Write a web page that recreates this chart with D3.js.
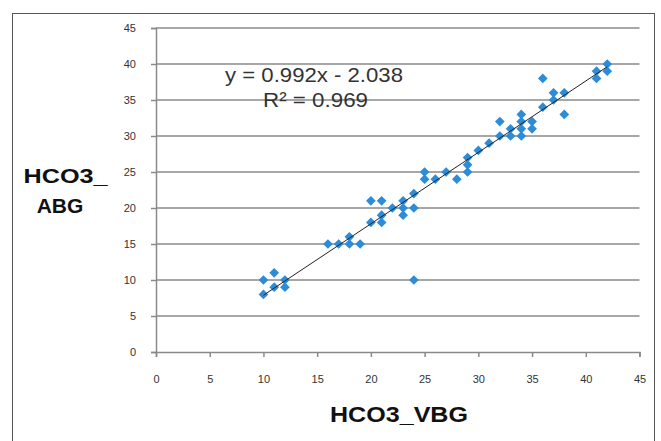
<!DOCTYPE html>
<html><head><meta charset="utf-8">
<script src="https://cdn.jsdelivr.net/npm/d3@7"></script>
<style>html,body{margin:0;padding:0;background:#fff;}svg{display:block;}</style>
</head><body>
<script>
const xValues = [10,10,11,11,12,12,16,17,18,18,19,20,21,20,21,21,22,23,23,23,24,24,24,25,25,26,27,28,29,29,29,30,31,32,32,33,33,34,34,34,34,35,35,36,36,37,37,38,38,41,41,42,42];
const yValues = [10,8,11,9,10,9,15,15,16,15,15,21,21,18,19,18,20,21,20,19,20,22,10,25,24,24,25,24,27,26,25,28,29,30,32,31,30,33,32,31,30,32,31,34,38,36,35,36,33,39,38,40,39];
const tickValues = [0,5,10,15,20,25,30,35,40,45];
const slope = 0.992, intercept = -2.038;
const eqLabel = "y = 0.992x - 2.038";
const r2Label = "R² = 0.969";
const xTitle = "HCO3_VBG";
const yTitleLines = ["HCO3_", "ABG"];

const W = 661, H = 441;
const font = "Liberation Sans, Arial, sans-serif";
const svg = d3.select("body").append("svg").attr("width", W).attr("height", H);
svg.append("rect").attr("x", 12.5).attr("y", 13.5).attr("width", 642).attr("height", 440)
  .attr("fill", "#fff").attr("stroke", "#555").attr("stroke-width", 1);

const x = d3.scaleLinear().domain([0,45]).range([156,639.5]);
const y = d3.scaleLinear().domain([0,45]).range([352,28]);

// gridlines
svg.append("g").selectAll("line").data(tickValues.filter(d=>d>0)).join("line")
  .attr("x1", x(0)).attr("x2", x(45)).attr("y1", d=>y(d)).attr("y2", d=>y(d))
  .attr("stroke", "#8a8a8a").attr("stroke-width", 1.5);

const gx = svg.append("g").attr("transform", `translate(0,${y(0)})`)
  .call(d3.axisBottom(x).tickValues(tickValues).tickSize(5).tickPadding(18).tickFormat(d3.format("d")));
const gy = svg.append("g").attr("transform", `translate(${x(0)},0)`)
  .call(d3.axisLeft(y).tickValues(tickValues).tickSize(5).tickPadding(15).tickFormat(d3.format("d")));
[gx, gy].forEach(g => {
  g.select(".domain").attr("stroke", "#8a8a8a").attr("stroke-width", 1.5);
  g.selectAll(".tick line").attr("stroke", "#8a8a8a").attr("stroke-width", 1.5);
  g.selectAll(".tick text").attr("fill", "#333").style("font-family", font).style("font-size", "11px");
});

// points
const pts = xValues.map((v,i)=>[v, yValues[i]]);
const diamond = d3.symbol().type(d3.symbolDiamond2).size(60);
svg.append("g").selectAll("path").data(pts).join("path")
  .attr("d", diamond)
  .attr("transform", d=>`translate(${x(d[0])},${y(d[1])})`)
  .attr("fill", "#2d8cd8");

// trendline
const xmin = d3.min(xValues), xmax = d3.max(xValues);
svg.append("line")
  .attr("x1", x(xmin)).attr("y1", y(slope*xmin+intercept))
  .attr("x2", x(xmax)).attr("y2", y(slope*xmax+intercept))
  .attr("stroke", "#222").attr("stroke-width", 1);

// equation
const eq = svg.append("g").style("font-family", font).style("font-size", "20px").attr("fill", "#333");
eq.append("text").attr("x", 314).attr("y", 82).attr("text-anchor", "middle")
  .attr("textLength", 178).attr("lengthAdjust", "spacingAndGlyphs").text(eqLabel);
eq.append("text").attr("x", 315.5).attr("y", 107).attr("text-anchor", "middle")
  .attr("textLength", 105).attr("lengthAdjust", "spacingAndGlyphs").text(r2Label);

// titles
svg.append("text").attr("x", 399).attr("y", 422).attr("text-anchor", "middle")
  .attr("textLength", 138).attr("lengthAdjust", "spacingAndGlyphs")
  .style("font-family", font).style("font-size", "22px").style("font-weight", "bold")
  .attr("fill", "#111").text(xTitle);
const yt = svg.append("g").style("font-family", font).style("font-size", "21px").style("font-weight", "bold").attr("fill", "#111");
yt.append("text").attr("x", 65.5).attr("y", 183).attr("text-anchor", "middle")
  .attr("textLength", 84).attr("lengthAdjust", "spacingAndGlyphs").text(yTitleLines[0]);
yt.append("text").attr("x", 60).attr("y", 213).attr("text-anchor", "middle").text(yTitleLines[1]);
</script>
</body></html>
